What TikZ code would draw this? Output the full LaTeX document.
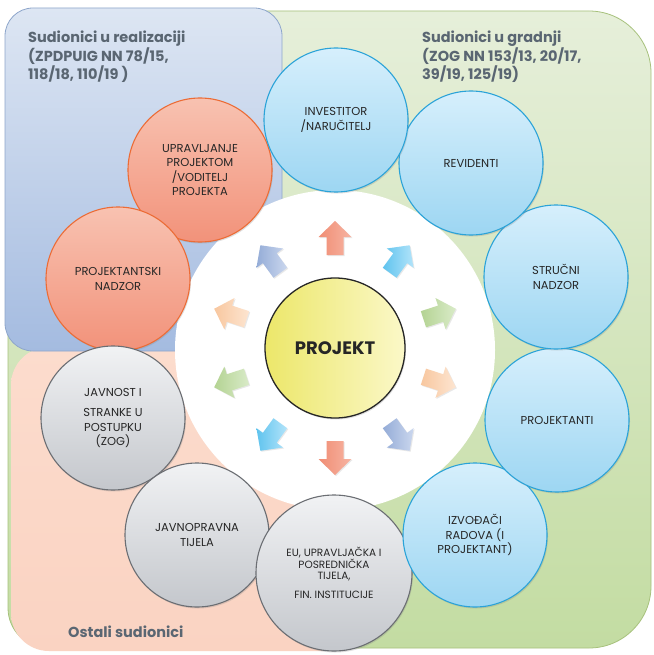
\documentclass[tikz,border=0pt]{standalone}
\usepackage{fontspec}
\setmainfont{Poppins}
\usetikzlibrary{shadows}
\definecolor{greenTop}{HTML}{E6EFDA}
\definecolor{greenBot}{HTML}{C3DCA2}
\definecolor{greenEdge}{HTML}{A7C17C}
\definecolor{peachTop}{HTML}{FCDCCD}
\definecolor{peachBot}{HTML}{FAD3C2}
\definecolor{blueTop}{HTML}{DDE6F3}
\definecolor{blueBot}{HTML}{A4BBE0}
\definecolor{blueEdge}{HTML}{8EA6CB}
\definecolor{cbTop}{HTML}{D6EFFC}
\definecolor{cbBot}{HTML}{9DD6F2}
\definecolor{cbEdge}{HTML}{2BA3D8}
\definecolor{coTop}{HTML}{F8C2B1}
\definecolor{coBot}{HTML}{F2927A}
\definecolor{coEdge}{HTML}{EC6C36}
\definecolor{cgTop}{HTML}{F1F2F4}
\definecolor{cgBot}{HTML}{C4C7CC}
\definecolor{cgEdge}{HTML}{6B6E73}
\definecolor{labelGray}{HTML}{5A6672}
\definecolor{txtDark}{HTML}{262626}
\definecolor{yelL}{HTML}{ECE76A}
\definecolor{yelR}{HTML}{FBF8C8}
\definecolor{aredB}{HTML}{F08D74}\definecolor{aredT}{HTML}{F7B4A2}
\definecolor{acyanB}{HTML}{5FC3EE}\definecolor{acyanT}{HTML}{B3E4FA}
\definecolor{agreenB}{HTML}{B4D393}\definecolor{agreenT}{HTML}{D9EBC8}
\definecolor{apeachB}{HTML}{F8C79F}\definecolor{apeachT}{HTML}{FDE5D1}
\definecolor{asteelB}{HTML}{94ACD7}\definecolor{asteelT}{HTML}{CBD7EE}
\begin{document}
\begin{tikzpicture}[x=1pt,y=-1pt,
  bigcirc/.style={circle, minimum size=144pt, inner sep=0pt, align=center,
    font=\fontsize{11.5}{14.5}\selectfont, text=txtDark, line width=1.1pt,
    drop shadow={opacity=0.25, shadow xshift=1pt, shadow yshift=-1.5pt}},
  cblue/.style={bigcirc, top color=cbTop, bottom color=cbBot, draw=cbEdge},
  corange/.style={bigcirc, top color=coTop, bottom color=coBot, draw=coEdge},
  cgray/.style={bigcirc, top color=cgTop, bottom color=cgBot, draw=cgEdge},
  grouplabel/.style={anchor=north west, inner sep=0pt, align=left, text=labelGray,
    font=\bfseries\fontsize{14.5}{18.5}\selectfont},
  blockarrow/.style={drop shadow={opacity=0.18, shadow xshift=1pt, shadow yshift=-1pt}}
]
\useasboundingbox (0,0) rectangle (653,655);
\fill[white] (0,0) rectangle (653,655);

% background regions
\draw[greenEdge, line width=0.8pt, top color=greenTop, bottom color=greenBot]
  (8,330) [rounded corners=62] -- (8,11) -- (651,11) -- (651,648)
  [rounded corners=40] -- (8,648) -- cycle;
\path[top color=peachTop, bottom color=peachBot, rounded corners=38] (11,347) rectangle (362,651);
\draw[blueEdge, line width=0.8pt, top color=blueTop, bottom color=blueBot, rounded corners=28]
  (5,8) rectangle (282,351);

% white disc
\fill[white] (335,350) circle (160pt);

% group labels
\node[grouplabel] (lblreal) at (28,31) {Sudionici u realizaciji\\(ZPDPUIG NN 78/15,\\118/18, 110/19 )};
\node[grouplabel] (lblgrad) at (422,31) {Sudionici u gradnji\\(ZOG NN 153/13, 20/17,\\39/19, 125/19)};
\node[grouplabel, anchor=west] (lblost) at (68,632) {Ostali sudionici};

% arrows around the centre
\foreach \a/\c in {90/ared, 54/acyan, 18/agreen, -18/apeach, -54/asteel,
                   -90/ared, -126/acyan, -162/agreen, 162/apeach, 126/asteel}{
  \begin{scope}[shift={({335+110*cos(\a)},{348-110*sin(\a)})}, rotate=\a]
    \path[blockarrow, left color=\c B, right color=\c T]
      (-17,-8.5) -- (1,-8.5) -- (1,-16.5) -- (17,0) -- (1,16.5) -- (1,8.5) -- (-17,8.5) -- cycle;
  \end{scope}
}

% centre
\node[circle, minimum size=140pt, inner sep=0pt, left color=yelL, right color=yelR,
  draw=black!85, line width=1.3pt, font=\bfseries\fontsize{18}{20}\selectfont, text=txtDark,
  drop shadow={opacity=0.25, shadow xshift=1pt, shadow yshift=-1.5pt}] (proj) at (335,348) {PROJEKT};

% outer circles
\node[corange] (upr) at (200,170) {UPRAVLJANJE\\PROJEKTOM\\/VODITELJ\\PROJEKTA};
\node[corange] (pnad) at (118,279) {PROJEKTANTSKI\\NADZOR};
\node[cgray] (javn) at (113,418) {JAVNOST I\\[6pt]STRANKE U\\POSTUPKU\\(ZOG)};
\node[cgray] (jpt) at (197,535) {JAVNOPRAVNA\\TIJELA};
\node[cgray, minimum size=156pt, font=\fontsize{10.5}{11.5}\selectfont] (eu) at (334,573)
  {EU, UPRAVLJAČKA I\\POSREDNIČKA\\TIJELA,\\[7pt]FIN. INSTITUCIJE};
\node[cblue] (izv) at (475,535) {IZVOĐAČI\\RADOVA (I\\PROJEKTANT)};
\node[cblue] (prt) at (557,420) {PROJEKTANTI};
\node[cblue] (snad) at (556,277) {STRUČNI\\NADZOR};
\node[cblue] (rev) at (471,163) {REVIDENTI};
\node[cblue] (inv) at (336,120) {INVESTITOR\\/NARUČITELJ};
\end{tikzpicture}
\end{document}
